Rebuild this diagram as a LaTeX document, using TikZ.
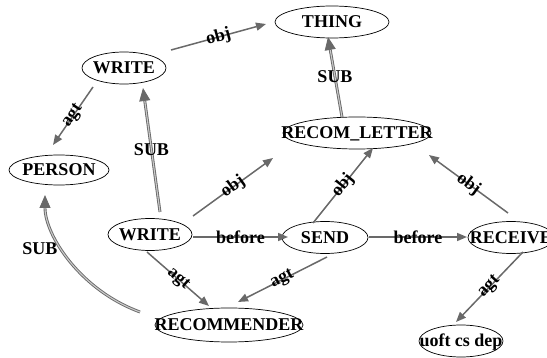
\documentclass[tikz,border=0pt]{standalone}
\usepackage{fontspec}
\setmainfont{Liberation Serif}
\usetikzlibrary{shapes.geometric,arrows.meta,calc}
\definecolor{edgegray}{RGB}{105,105,105}
\newcommand{\zw}[1]{\makebox[0pt]{#1}}
\begin{document}
\begin{tikzpicture}[x=1pt,y=-1pt,
  nd/.style={ellipse, draw=black, line width=0.7pt, inner sep=0pt,
    minimum height=32pt, minimum width=#1, text height=12pt, text depth=0pt,
    font=\fontsize{18}{18}\selectfont\bfseries},
  rel/.style={draw=edgegray, line width=1.5pt, -{Triangle[length=10pt,width=8pt]}},
  subrel/.style={draw=edgegray, line width=0.9pt, double=edgegray!35, double distance=1.1pt,
    -{Triangle[length=13pt,width=11pt]}},
  txt/.style={font=\fontsize{18}{18}\selectfont\bfseries, inner sep=0pt},
  lab/.style={txt, sloped, pos=0.5},
  sublab/.style={txt, pos=0.5}
]
\useasboundingbox (0,0) rectangle (547,358);

\node[nd=114pt] (thing) at (332,22) {\zw{THING}};
\node[nd=84pt] (wt) at (124,68) {\zw{WRITE}};
\node[nd=100pt, minimum height=30pt] (person) at (59,170) {\zw{PERSON}};
\node[nd=148pt] (letter) at (357,133) {\zw{RECOM\_LETTER}};
\node[nd=84pt] (wb) at (150,234.5) {\zw{WRITE}};
\node[nd=86pt] (send) at (325,237.5) {\zw{SEND}};
\node[nd=86pt] (receive) at (511,237.5) {\zw{RECEIVE}};
\node[nd=148pt, minimum height=34pt] (rec) at (229,325) {\zw{RECOMMENDER}};
\node[nd=84pt] (uoft) at (461,341) {\zw{uoft cs dep}};

\draw[rel] ($(wt)+(47,-18)$) -- node[lab]{obj} ($(thing)+(-66,2)$);
\draw[rel] ($(wt)+(-31,19)$) -- node[lab]{agt} ($(person)+(-6,-25)$);
\draw[subrel] ($(wb)+(10,-22.5)$) -- node[sublab]{SUB} ($(wt)+(19,20)$);
\draw[subrel] ($(letter)+(-15,-16)$) -- node[sublab]{SUB} ($(thing)+(-4,15)$);
\draw[rel] ($(wb)+(43,-18.5)$) -- node[lab]{obj} ($(letter)+(-84,25)$);
\draw[rel] ($(send)+(-12,-14.5)$) -- node[lab]{obj} ($(letter)+(16,15)$);
\draw[rel] ($(receive)+(-3,-24.5)$) -- node[lab]{obj} ($(letter)+(72,22)$);
\draw[rel] ($(wb)+(43,2.5)$) -- node[lab]{before} ($(send)+(-37,-0.5)$);
\draw[rel] ($(send)+(44,-0.5)$) -- node[lab]{before} ($(receive)+(-44,-0.5)$);
\draw[rel] ($(wb)+(-3,17.5)$) -- node[lab]{agt} ($(rec)+(-20,-19)$);
\draw[rel] ($(send)+(2,19.5)$) -- node[lab]{agt} ($(rec)+(9,-23)$);
\draw[rel] ($(receive)+(12,14.5)$) -- node[lab]{agt} ($(uoft)+(-5,-19)$);
\draw[subrel] ($(rec)+(-89,-13)$) .. controls +(-60,-22) and +(0,40) .. ($(person)+(-14,25)$);
\node[txt] (sublabel) at (40,249) {SUB};
\end{tikzpicture}
\end{document}
